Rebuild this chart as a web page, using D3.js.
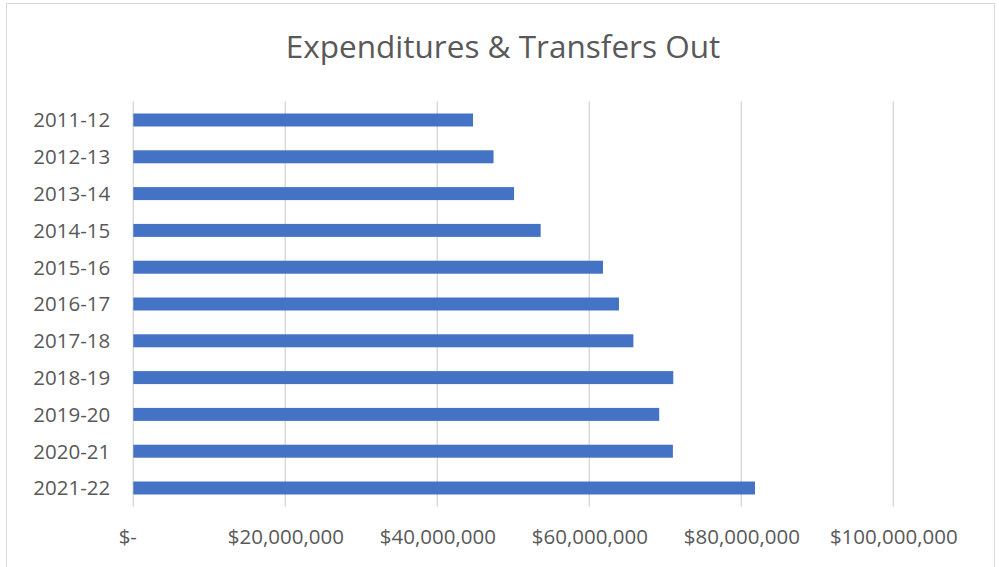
<!DOCTYPE html>
<html>
<head>
<meta charset="utf-8">
<script src="https://cdn.jsdelivr.net/npm/d3@7"></script>
<style>
  body { margin: 0; background: #fff; }
  svg { font-family: "Open Sans", sans-serif; }
</style>
</head>
<body>
<div id="chart"></div>
<script>
// fiscal years, top to bottom
const years = ['2011-12', '2012-13', '2013-14', '2014-15', '2015-16', '2016-17',
  '2017-18', '2018-19', '2019-20', '2020-21', '2021-22'];
// expenditures & transfers out, dollars
const amounts = [44700000, 47400000, 50100000, 53600000, 61800000, 63900000,
  65800000, 71050000, 69200000, 71000000, 81800000];
const xTicks = [0, 20000000, 40000000, 60000000, 80000000, 100000000];

const W = 999, H = 567;
const margin = { top: 101.6, right: 105.7, bottom: 60.6, left: 133.3 };
const width = W - margin.left - margin.right;
const height = H - margin.top - margin.bottom;

const svg = d3.select('#chart').append('svg')
  .attr('width', W)
  .attr('height', H);

// chart frame
svg.append('rect')
  .attr('x', 6.5).attr('y', 3.5)
  .attr('width', 988).attr('height', 580)
  .attr('fill', '#fff')
  .attr('stroke', '#d9d9d9');

svg.append('text')
  .attr('x', 503)
  .attr('y', 58)
  .attr('text-anchor', 'middle')
  .attr('font-size', 31.5)
  .attr('fill', '#595959')
  .text('Expenditures & Transfers Out');

const g = svg.append('g').attr('transform', 'translate(' + margin.left + ',' + margin.top + ')');

const x = d3.scaleLinear().domain([0, 100000000]).range([0, width]);
const y = d3.scaleBand().domain(years).range([0, height]).paddingInner(0.647).paddingOuter(0.3235);

// gridlines
g.append('g')
  .selectAll('line')
  .data(xTicks)
  .enter().append('line')
    .attr('x1', d => x(d)).attr('x2', d => x(d))
    .attr('y1', 0).attr('y2', height)
    .attr('stroke', '#d9d9d9')
    .attr('stroke-width', 1.5);

g.append('g')
  .selectAll('rect')
  .data(years)
  .enter().append('rect')
    .attr('x', x(0))
    .attr('y', d => y(d))
    .attr('width', (d, i) => x(amounts[i]) - x(0))
    .attr('height', y.bandwidth())
    .attr('fill', '#4472c4');

const fmt = d => d === 0 ? '$-' : '$' + d3.format(',')(d);

const xAxis = g.append('g')
  .attr('transform', 'translate(0,' + height + ')')
  .call(d3.axisBottom(x).tickValues(xTicks).tickFormat(fmt).tickSize(0));
xAxis.select('.domain').remove();
xAxis.selectAll('.tick text')
  .attr('font-family', '"Open Sans", sans-serif')
  .attr('font-size', 20.5)
  .attr('fill', '#595959')
  .attr('dy', 0)
  .attr('y', 38)
  .attr('dx', d => d === 0 ? -6 : 0);

const yAxis = g.append('g')
  .call(d3.axisLeft(y).tickSize(0));
yAxis.select('.domain').remove();
yAxis.selectAll('.tick text')
  .attr('font-family', '"Open Sans", sans-serif')
  .attr('font-size', 20.5)
  .attr('fill', '#595959')
  .attr('x', -23)
  .attr('dy', '0.36em');
</script>
</body>
</html>
